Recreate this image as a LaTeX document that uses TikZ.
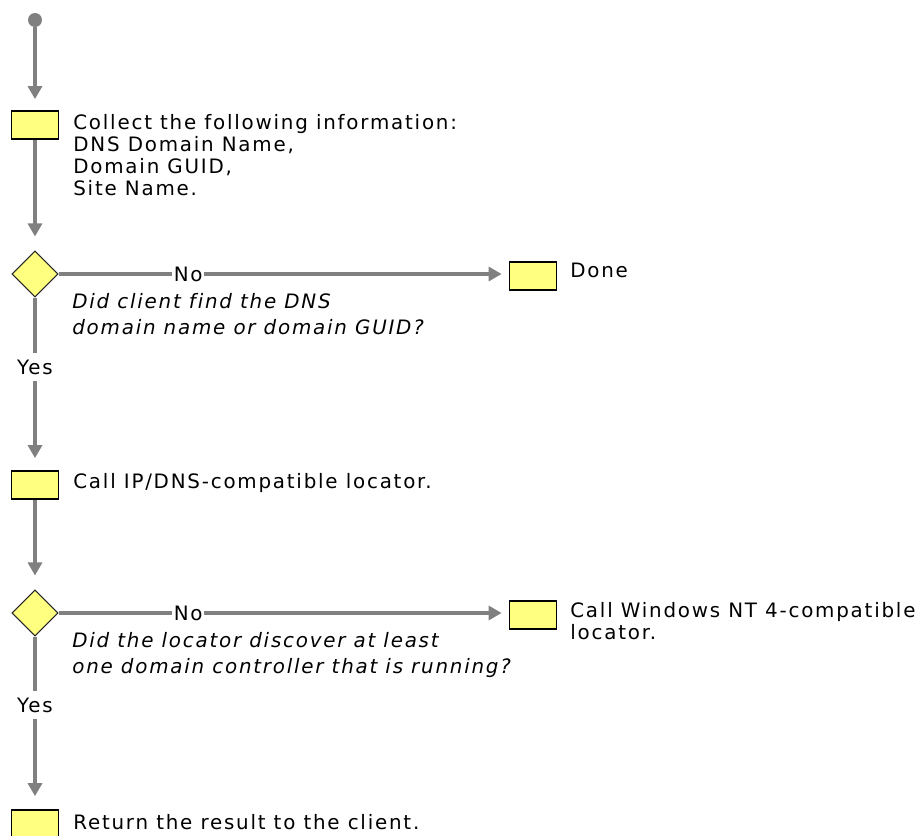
\documentclass[tikz,border=0pt]{standalone}
\usepackage{fontspec}
\setmainfont[LetterSpace=9,Ligatures={NoCommon}]{DejaVu Sans}
\usetikzlibrary{arrows.meta,shapes.geometric}
\definecolor{giallo}{HTML}{FFFF80}
\definecolor{grigio}{HTML}{808080}

\begin{document}
\begin{tikzpicture}[x=0.02cm,y=-0.02cm,font=\fontsize{11.3}{12.5}\selectfont,
  stepbox/.style={draw,fill=giallo,line width=1pt,minimum width=0.94cm,minimum height=0.56cm,inner sep=0pt},
  decision/.style={diamond,aspect=1,draw=black!85,fill=giallo,line width=0.6pt,minimum width=0.92cm,minimum height=0.92cm,inner sep=0pt},
  flow/.style={draw=grigio,line width=1.8pt},
  flowarrow/.style={flow,-{Triangle[length=0.26cm,width=0.28cm]}},
  steptext/.style={anchor=north west,inner sep=0pt,align=left},
  question/.style={steptext,font=\fontsize{11.3}{14.7}\selectfont\itshape},
  answer/.style={fill=white,inner sep=1pt}]

\useasboundingbox (0,0) rectangle (922,835);

% steps
\node[circle,fill=grigio,minimum size=0.28cm,inner sep=0pt] (start) at (35,20) {};
\node[stepbox] (collect) at (35,125) {};
\node[decision] (found) at (35,274) {};
\node[stepbox] (done) at (533,276) {};
\node[stepbox] (ipdns) at (35,485) {};
\node[decision] (discover) at (35,613) {};
\node[stepbox] (nt4) at (533,615) {};
\node[stepbox] (result) at (35,824) {};

% texts
\node[steptext] (collecttext) at (73,114) {Collect the following information:\\DNS Domain Name,\\Domain GUID,\\Site Name.};
\node[steptext] (donetext) at (570,263) {Done};
\node[question] (foundtext) at (72,293) {Did client find the DNS\\domain name or domain GUID?};
\node[steptext] (ipdnstext) at (73,473) {Call IP/DNS-compatible locator.};
\node[steptext] (nt4text) at (570,602) {Call Windows NT 4-compatible\\locator.};
\node[question] (discovertext) at (72,632) {Did the locator discover at least\\one domain controller that is running?};
\node[steptext] (resulttext) at (73,814) {Return the result to the client.};

\node (yes1) at (35,367) {Yes};
\node (yes2) at (35,705) {Yes};

% connectors
\draw[flowarrow,shorten >=0.22cm] (start) -- (collect);
\draw[flowarrow,shorten >=0.28cm] (collect) -- (found);
\draw[flowarrow,shorten >=0.14cm] (found.east) -- node[answer,pos=0.288] {No} (found.east -| done.west);
\draw[flow] (found) -- (yes1);
\draw[flowarrow,shorten >=0.24cm] (yes1) -- (ipdns);
\draw[flowarrow,shorten >=0.28cm] (ipdns) -- (discover);
\draw[flowarrow,shorten >=0.14cm] (discover.east) -- node[answer,pos=0.288] {No} (discover.east -| nt4.west);
\draw[flow] (discover) -- (yes2);
\draw[flowarrow,shorten >=0.26cm] (yes2) -- (result);

\end{tikzpicture}
\end{document}
